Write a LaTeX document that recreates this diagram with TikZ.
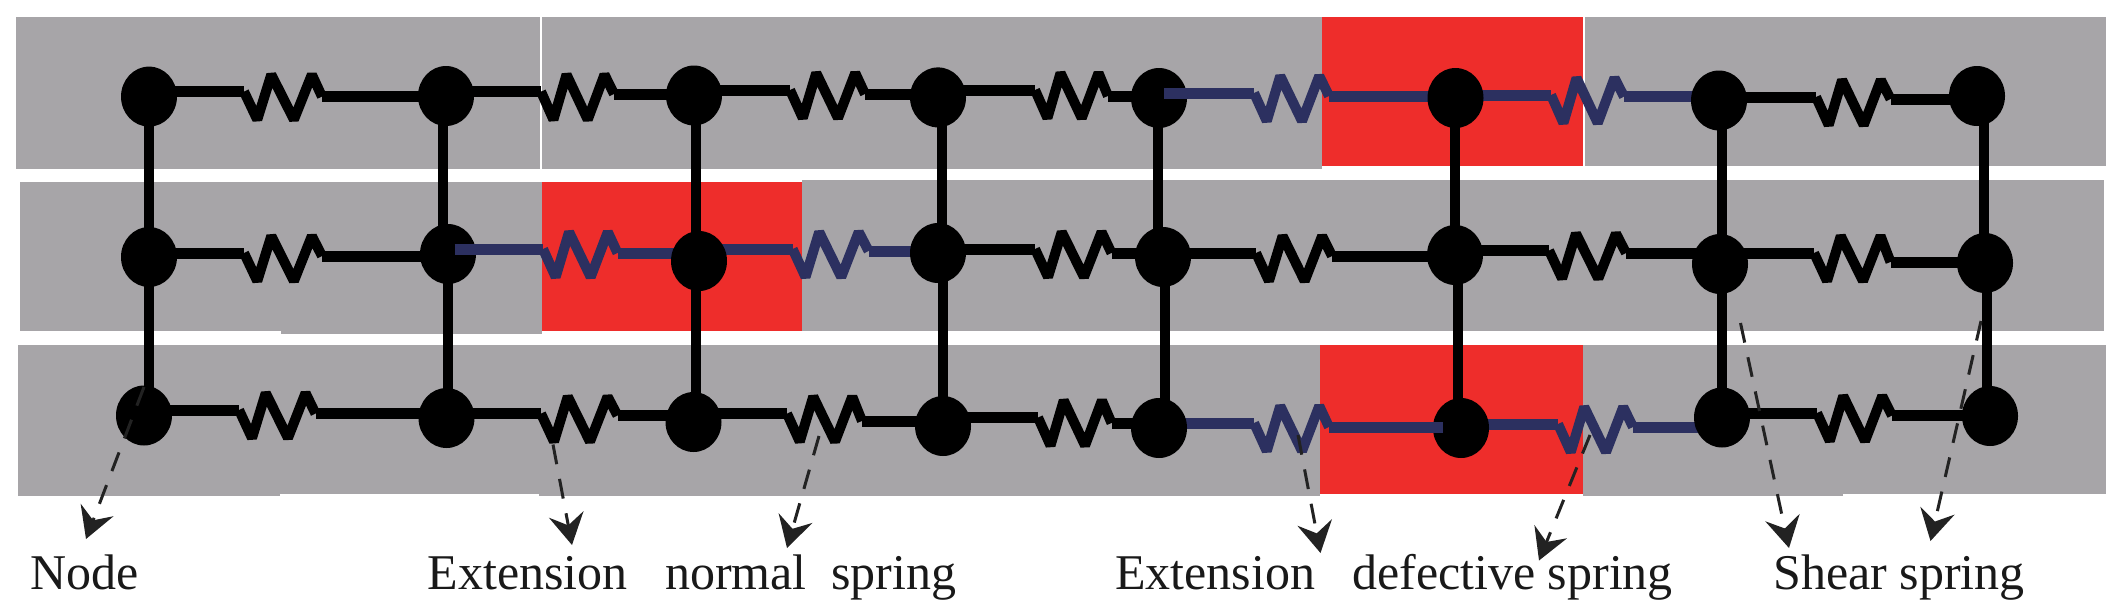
\documentclass[tikz,border=0pt]{standalone}
\usepackage{fontspec}
\setmainfont{Liberation Serif}
\usetikzlibrary{shapes.geometric,arrows.meta}
\definecolor{panel}{HTML}{A7A5A8}
\definecolor{defect}{HTML}{EE2D2B}
\definecolor{navy}{HTML}{2C3060}
\definecolor{pointer}{HTML}{222222}
\tikzset{
  mass/.style={ellipse,fill=black,inner sep=0pt,minimum width=56pt,minimum height=60pt},
  rod/.style={line width=10pt,black},
  normalwire/.style={black},
  badwire/.style={navy},
  wire/.style={line width=11pt},
  coil/.style={line width=10pt,line join=bevel},
  pointerline/.style={line width=3pt,pointer,dash pattern=on 20pt off 15pt,
    -{Stealth[length=31pt,width=35pt,inset=11pt]}},
  caption/.style={anchor=base west,inner sep=0pt,font=\fontsize{50}{52}\selectfont,text=black!90}
}
% style, left node, right node, x1, y1, x2, y2
\newcommand{\springlink}[7]{%
  \draw[wire,#1] (#2 |- #4,#5) -- (#4,#5);
  \draw[wire,#1] (#6,#7) -- (#3 |- #6,#7);
  \draw[coil,#1] (#4,#5)
    -- ({#4+0.17*(#6-#4)},{#5+28})
    -- ({#4+0.35*(#6-#4)},{#5-17})
    -- ({#4+0.64*(#6-#4)},{#5+28})
    -- ({#4+0.87*(#6-#4)},{#5-17})
    -- (#6,#7);
}
\newcommand{\rodlink}[3]{\draw[rod] (#1 -| #3,0) -- (#2 -| #3,0);}
\begin{document}
\begin{tikzpicture}[x=1pt,y=-1pt]
\useasboundingbox (0,0) rectangle (2128,606);
% panels
\fill[panel] (16,17) rectangle (540,169);
\fill[panel] (542,17) rectangle (1322,169);
\fill[panel] (1585,17) rectangle (2106,166);
\fill[panel] (20,182) rectangle (281,331);
\fill[panel] (281,182) rectangle (542,334);
\fill[panel] (802,180) rectangle (2104,331);
\fill[panel] (18,345) rectangle (280,496);
\fill[panel] (280,345) rectangle (539,494);
\fill[panel] (539,345) rectangle (1320,496);
\fill[panel] (1583,345) rectangle (1843,496);
\fill[panel] (1843,345) rectangle (2106,494);
\fill[defect] (1322,17) rectangle (1583,166);
\fill[defect] (541.5,182) rectangle (802,331);
\fill[defect] (1320,345) rectangle (1583,494);
% masses (placed first as coordinates, painted after the links)
\foreach \n/\x/\y in {n11/149/96.6,n12/446/96,n13/694/95.5,n14/938/97.4,n15/1159/98,n16/1455.5/98,n17/1719/100.5,n18/1977/96,
  n21/149/257,n22/448/254,n23/699/261,n24/938/253,n25/1163/257,n26/1455/255,n27/1720/264,n28/1985/263,
  n31/144/415.5,n32/446.5/418,n33/693.5/422,n34/943/426,n35/1159/428,n36/1461/428,n37/1722/417.5,n38/1990/416}
  {\coordinate (\n) at (\x,\y);}
% rods
\rodlink{n11}{n21}{148.6}\rodlink{n21}{n31}{148.6}
\rodlink{n12}{n22}{443}\rodlink{n22}{n32}{448}
\rodlink{n13}{n23}{695.5}\rodlink{n23}{n33}{695.5}
\rodlink{n14}{n24}{942}\rodlink{n24}{n34}{943}
\rodlink{n15}{n25}{1158.3}\rodlink{n25}{n35}{1165}
\rodlink{n16}{n26}{1455}\rodlink{n26}{n36}{1457.5}
\rodlink{n17}{n27}{1722}\rodlink{n27}{n37}{1722}
\rodlink{n18}{n28}{1983.5}\rodlink{n28}{n38}{1987}
% springs
\springlink{normalwire}{n11}{n12}{244}{91.6}{322}{96.6}
\springlink{normalwire}{n12}{n13}{541}{91.6}{614}{94}
\springlink{normalwire}{n13}{n14}{790}{90}{865}{94}
\springlink{normalwire}{n14}{n15}{1035}{90}{1108}{96}
\springlink{badwire}{n15}{n16}{1254}{93}{1329}{96}
\springlink{badwire}{n16}{n17}{1551}{95}{1624}{96.6}
\springlink{normalwire}{n17}{n18}{1816}{97}{1890.5}{99}
\springlink{normalwire}{n21}{n22}{244}{253}{322}{256}
\springlink{badwire}{n22}{n23}{543}{249}{617.5}{253}
\springlink{badwire}{n23}{n24}{792.6}{249}{868.6}{251}
\springlink{normalwire}{n24}{n25}{1035}{249}{1111.5}{253}
\springlink{normalwire}{n25}{n26}{1256}{253}{1332}{256}
\springlink{normalwire}{n26}{n27}{1549}{250.5}{1626}{253}
\springlink{normalwire}{n27}{n28}{1814}{253}{1890.5}{262}
\springlink{normalwire}{n31}{n32}{239}{410}{315.5}{413.6}
\springlink{normalwire}{n32}{n33}{541}{413.6}{617.5}{415.5}
\springlink{normalwire}{n33}{n34}{787}{413.6}{862}{421}
\springlink{normalwire}{n34}{n35}{1038}{417.5}{1111.5}{423}
\springlink{badwire}{n35}{n36}{1254}{423}{1329}{427}
\springlink{badwire}{n36}{n37}{1558}{424}{1633}{427}
\springlink{normalwire}{n37}{n38}{1817}{413}{1892}{415.5}
% masses
\foreach \n in {n11,n12,n13,n14,n15,n16,n17,n18,n21,n22,n23,n24,n25,n26,n27,n28,n31,n32,n33,n34,n35,n36,n37,n38}
  {\node[mass] (m\n) at (\n) {};}
% navy wire ends lying over the masses
\draw[wire,badwire] (1164,93) -- (mn15.east |- 1164,93);
\draw[wire,badwire] (454.6,249) -- (mn22.east |- 454.6,249);
\draw[wire,badwire] (1442.6,427) -- (mn36.west |- 1442.6,427);
% labels
\node[caption] (tnode) at (30,589.5) {Node};
\node[caption] (text1) at (427.5,589.5) {Extension};
\node[caption] (tnorm) at (665,589.5) {normal};
\node[caption] (tspr1) at (831,589.5) {spring};
\node[caption] (text2) at (1115,589.5) {Extension};
\node[caption] (tdef) at (1352,589.5) {defective spring};
\node[caption] (tshear) at (1773,589.5) {Shear spring};
% pointers
\coordinate (p1) at (144,387); \coordinate (q1) at (86,539);
\coordinate (p2) at (553,444.5); \coordinate (q2) at (572,545);
\coordinate (p3) at (819,436); \coordinate (q3) at (787,548);
\coordinate (p4) at (1298,435); \coordinate (q4) at (1320.5,553);
\coordinate (p5) at (1590,435); \coordinate (q5) at (1539,560.5);
\coordinate (p6) at (1740.5,323); \coordinate (q6) at (1789,548);
\coordinate (p7) at (1981,321); \coordinate (q7) at (1930.5,541);
\foreach \i in {1,...,7}{\draw[pointerline] (p\i) -- (q\i);}
\end{tikzpicture}
\end{document}
